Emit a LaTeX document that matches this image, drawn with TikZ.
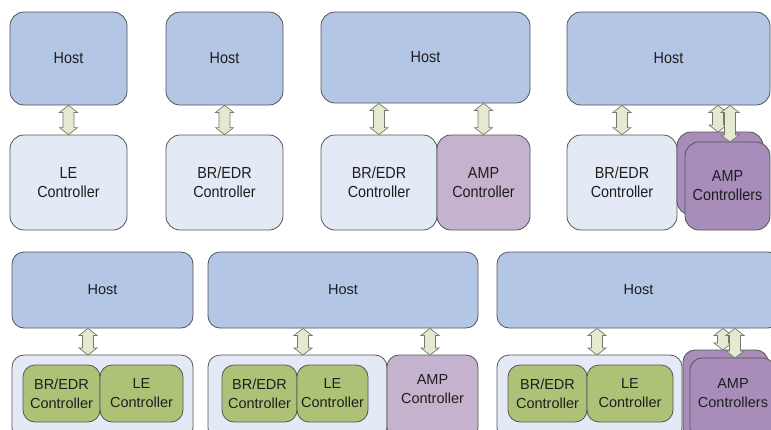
\documentclass[tikz,border=0pt]{standalone}
\usepackage{fontspec}
\setmainfont{Liberation Sans}
\newfontfamily\condfont{Liberation Sans}[FakeStretch=0.9]
\usetikzlibrary{calc}
\definecolor{edgec}{HTML}{555555}
\definecolor{hostc}{HTML}{B3C6E5}
\definecolor{lightc}{HTML}{E4EAF5}
\definecolor{ampc}{HTML}{C4B2CE}
\definecolor{ampsc}{HTML}{A88DBA}
\definecolor{greenc}{HTML}{AEC277}
\definecolor{arrc}{HTML}{E4E9D2}
\definecolor{arre}{HTML}{77776A}
\definecolor{txtc}{HTML}{1E1E1E}
\newcommand\fatarrow[2]{%
  \path[fatarr] let \p1=(#1), \p2=(#2) in
    (\x1,\y1) -- (\x1+9pt,\y1-7pt) -- (\x1+5.5pt,\y1-7pt) -- (\x1+5.5pt,\y2+7pt)
    -- (\x1+9pt,\y2+7pt) -- (\x1,\y2) -- (\x1-9pt,\y2+7pt) -- (\x1-5.5pt,\y2+7pt)
    -- (\x1-5.5pt,\y1-7pt) -- (\x1-9pt,\y1-7pt) -- cycle;}
\begin{document}
\begin{tikzpicture}[x=1pt,y=-1pt,
  box/.style={draw=edgec, line width=0.8pt, inner sep=0pt, align=center, text=txtc},
  topbox/.style={box, rounded corners=14pt, font=\condfont\fontsize{16}{19}\selectfont},
  botbox/.style={box, rounded corners=12pt, font=\fontsize{14.5}{19}\selectfont},
  hostT/.style={topbox, fill=hostc},
  lightT/.style={topbox, fill=lightc},
  ampT/.style={topbox, fill=ampc},
  ampsT/.style={topbox, fill=ampsc},
  hostB/.style={botbox, fill=hostc},
  contB/.style={botbox, fill=lightc},
  greenB/.style={botbox, fill=greenc},
  ampB/.style={botbox, fill=ampc},
  ampsB/.style={botbox, fill=ampsc},
  lbl/.style={align=center, text=txtc, inner sep=0pt},
  fatarr/.style={draw=arre, fill=arrc, line width=0.7pt, line join=miter}
]
\useasboundingbox (0,0) rectangle (771,429);
\clip (0,0) rectangle (771,429);
\fill[white] (0,0) rectangle (771,429);

% ---- Diagram 1
\node[hostT, minimum width=117pt, minimum height=93pt] (h1) at (68.5,58.5) {Host};
\node[lightT, minimum width=117pt, minimum height=95pt] (c1) at (68.5,182.5) {LE\\Controller};
\fatarrow{h1.south}{c1.north}

% ---- Diagram 2
\node[hostT, minimum width=117pt, minimum height=93pt] (h2) at (224.5,58.5) {Host};
\node[lightT, minimum width=117pt, minimum height=95pt] (c2) at (224.5,182.5) {BR/EDR\\Controller};
\fatarrow{h2.south}{c2.north}

% ---- Diagram 3
\node[hostT, minimum width=209pt, minimum height=91pt] (h3) at (425.5,57.5) {Host};
\node[lightT, minimum width=116pt, minimum height=95pt] (c3) at (379,182.5) {BR/EDR\\Controller};
\node[ampT, minimum width=93pt, minimum height=95pt] (m3) at (483.5,182.5) {AMP\\Controller};
\fatarrow{h3.south -| c3.north}{c3.north}
\fatarrow{h3.south -| m3.north}{m3.north}

% ---- Diagram 4
\node[hostT, minimum width=203pt, minimum height=93pt] (h4) at (668.5,58.5) {Host};
\node[lightT, minimum width=110pt, minimum height=95pt] (c4) at (622,182.5) {BR/EDR\\Controller};
\fatarrow{h4.south -| c4.north}{c4.north}
\node[ampsT, minimum width=86pt, minimum height=83pt] (m4b) at (720,173.5) {};
\coordinate (p4b) at (718,132);
\fatarrow{h4.south -| p4b}{p4b}
\node[ampsT, minimum width=85pt, minimum height=88pt] (m4) at (727.5,186) {AMP\\Controllers};
\coordinate (p4) at (730,142);
\fatarrow{h4.south -| p4}{p4}

% ---- Diagram 5
\node[hostB, minimum width=181pt, minimum height=76pt] (h5) at (102.5,290) {Host};
\node[contB, minimum width=181pt, minimum height=85pt] (k5) at (102.5,397.5) {};
\node[greenB, minimum width=77pt, minimum height=57pt] (g5a) at (61.5,393.5) {BR/EDR\\Controller};
\node[greenB, minimum width=83pt, minimum height=57pt] (g5b) at (141.5,393.5) {LE\\Controller};
\coordinate (p5) at (88,355);
\fatarrow{h5.south -| p5}{p5}

% ---- Diagram 6
\node[hostB, minimum width=270pt, minimum height=76pt] (h6) at (343,290) {Host};
\node[contB, minimum width=179pt, minimum height=85pt] (k6) at (297.5,397.5) {};
\node[greenB, minimum width=75pt, minimum height=57pt] (g6a) at (259.5,393.5) {BR/EDR\\Controller};
\node[greenB, minimum width=71pt, minimum height=57pt] (g6b) at (332.5,393.5) {LE\\Controller};
\node[ampB, minimum width=91pt, minimum height=85pt] (m6) at (432.5,397.5) {};
\node[lbl, font=\fontsize{14.5}{19}\selectfont] (t6) at (432.5,389.5) {AMP\\Controller};
\coordinate (p6a) at (303,355);
\fatarrow{h6.south -| p6a}{p6a}
\coordinate (p6b) at (430,355);
\fatarrow{h6.south -| p6b}{p6b}

% ---- Diagram 7
\node[hostB, minimum width=283pt, minimum height=76pt] (h7) at (638.5,290) {Host};
\node[contB, minimum width=185pt, minimum height=85pt] (k7) at (589.5,397.5) {};
\node[greenB, minimum width=79pt, minimum height=57pt] (g7a) at (547.5,393.5) {BR/EDR\\Controller};
\node[greenB, minimum width=86pt, minimum height=57pt] (g7b) at (630,393.5) {LE\\Controller};
\coordinate (p7) at (597,355);
\fatarrow{h7.south -| p7}{p7}
\node[ampsB, minimum width=85pt, minimum height=90pt] (m7b) at (725.5,395) {};
\coordinate (p7b) at (723,350);
\fatarrow{h7.south -| p7b}{p7b}
\node[ampsB, minimum width=85pt, minimum height=82pt] (m7) at (732.5,399) {};
\node[lbl, font=\fontsize{14.5}{19}\selectfont] (t7) at (733,393) {AMP\\Controllers};
\coordinate (p7f) at (735,358);
\fatarrow{h7.south -| p7f}{p7f}
\end{tikzpicture}
\end{document}
